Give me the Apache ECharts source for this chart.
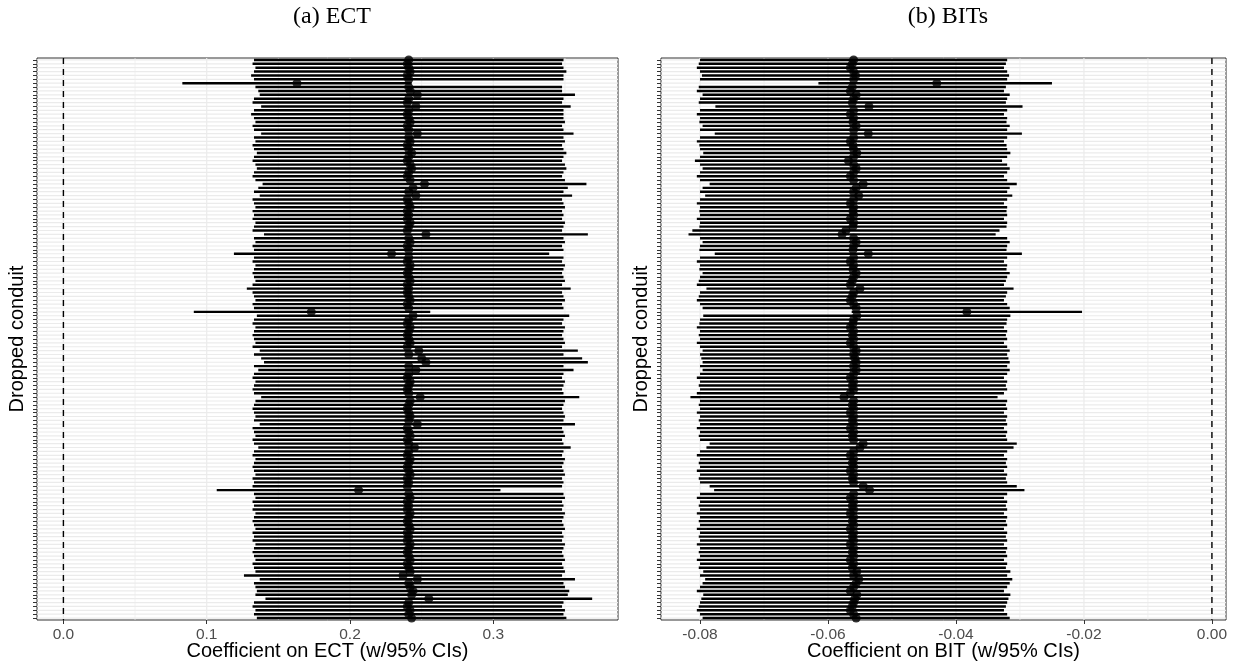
<!DOCTYPE html>
<html><head><meta charset="utf-8">
<script src="https://cdn.jsdelivr.net/npm/echarts@6/dist/echarts.min.js"></script>
<style>html,body{margin:0;padding:0;background:#fff}#c{width:1239px;height:669px}</style>
</head><body><div id="c"></div>
<script>
// ---------- Panel (a): ECT ----------
const ectEst = [
0.241,0.240,0.241,0.242,0.240,0.241,0.163,0.241,0.242,0.247,
0.241,0.240,0.246,0.241,0.240,0.241,0.242,0.240,0.241,0.247,
0.241,0.242,0.240,0.241,0.243,0.241,0.240,0.242,0.243,0.241,
0.240,0.242,0.252,0.244,0.241,0.246,0.240,0.241,0.242,0.240,
0.241,0.240,0.242,0.241,0.240,0.253,0.241,0.242,0.240,0.241,
0.229,0.241,0.240,0.242,0.241,0.240,0.241,0.242,0.240,0.241,
0.240,0.241,0.242,0.240,0.241,0.173,0.244,0.241,0.240,0.242,
0.241,0.240,0.241,0.242,0.240,0.248,0.241,0.250,0.253,0.241,
0.246,0.241,0.240,0.242,0.241,0.240,0.241,0.249,0.242,0.241,
0.240,0.241,0.242,0.241,0.247,0.240,0.241,0.242,0.240,0.241,
0.245,0.241,0.240,0.242,0.241,0.240,0.241,0.242,0.240,0.241,
0.240,0.206,0.241,0.242,0.240,0.241,0.240,0.242,0.241,0.240,
0.241,0.242,0.240,0.241,0.240,0.242,0.241,0.240,0.241,0.242,
0.240,0.241,0.242,0.237,0.247,0.241,0.242,0.244,0.243,0.255,
0.241,0.240,0.242,0.241,0.243];
const ectLo = [
0.133,0.132,0.134,0.133,0.131,0.133,0.083,0.134,0.136,0.137,
0.133,0.132,0.138,0.133,0.131,0.133,0.134,0.132,0.133,0.138,
0.133,0.134,0.132,0.133,0.135,0.133,0.132,0.134,0.135,0.133,
0.132,0.134,0.139,0.136,0.133,0.137,0.132,0.133,0.134,0.132,
0.133,0.132,0.134,0.133,0.132,0.140,0.133,0.134,0.132,0.133,
0.119,0.133,0.132,0.134,0.133,0.132,0.133,0.134,0.132,0.128,
0.132,0.133,0.134,0.132,0.133,0.091,0.135,0.133,0.132,0.134,
0.133,0.132,0.133,0.134,0.132,0.137,0.133,0.138,0.140,0.133,
0.136,0.133,0.132,0.134,0.133,0.132,0.133,0.138,0.134,0.133,
0.132,0.133,0.134,0.133,0.137,0.132,0.133,0.134,0.132,0.133,
0.136,0.133,0.132,0.134,0.133,0.132,0.133,0.134,0.132,0.133,
0.132,0.107,0.133,0.134,0.132,0.133,0.132,0.134,0.133,0.132,
0.133,0.134,0.132,0.133,0.132,0.134,0.133,0.132,0.133,0.134,
0.132,0.133,0.134,0.126,0.137,0.133,0.134,0.135,0.134,0.141,
0.133,0.132,0.134,0.133,0.135];
const ectHi = [
0.349,0.348,0.349,0.351,0.349,0.349,0.243,0.348,0.348,0.357,
0.349,0.348,0.354,0.349,0.349,0.349,0.350,0.348,0.349,0.356,
0.349,0.350,0.348,0.349,0.351,0.349,0.348,0.350,0.351,0.349,
0.348,0.350,0.365,0.352,0.349,0.355,0.348,0.349,0.350,0.348,
0.349,0.348,0.350,0.349,0.348,0.366,0.349,0.350,0.348,0.349,
0.339,0.349,0.348,0.350,0.349,0.348,0.349,0.350,0.348,0.354,
0.348,0.349,0.350,0.348,0.349,0.256,0.353,0.349,0.348,0.350,
0.349,0.348,0.349,0.350,0.348,0.359,0.349,0.362,0.366,0.349,
0.356,0.349,0.348,0.350,0.349,0.348,0.349,0.360,0.350,0.349,
0.348,0.349,0.350,0.349,0.357,0.348,0.349,0.350,0.348,0.349,
0.354,0.349,0.348,0.350,0.349,0.348,0.349,0.350,0.348,0.349,
0.348,0.305,0.349,0.350,0.348,0.349,0.348,0.350,0.349,0.348,
0.349,0.350,0.348,0.349,0.348,0.350,0.349,0.348,0.349,0.350,
0.348,0.349,0.350,0.348,0.357,0.349,0.350,0.353,0.352,0.369,
0.349,0.348,0.350,0.349,0.351];

// ---------- Panel (b): BITs ----------
const bitEst = [
-0.0560,-0.0562,-0.0565,-0.0560,-0.0557,-0.0560,-0.0430,-0.0562,-0.0565,-0.0556,
-0.0560,-0.0562,-0.0536,-0.0560,-0.0565,-0.0560,-0.0561,-0.0556,-0.0560,-0.0537,
-0.0560,-0.0565,-0.0561,-0.0560,-0.0555,-0.0560,-0.0568,-0.0560,-0.0556,-0.0560,
-0.0565,-0.0560,-0.0545,-0.0556,-0.0560,-0.0552,-0.0560,-0.0565,-0.0560,-0.0561,
-0.0560,-0.0565,-0.0560,-0.0561,-0.0572,-0.0578,-0.0560,-0.0556,-0.0560,-0.0561,
-0.0537,-0.0560,-0.0565,-0.0560,-0.0561,-0.0556,-0.0560,-0.0562,-0.0565,-0.0550,
-0.0560,-0.0562,-0.0565,-0.0560,-0.0556,-0.0383,-0.0555,-0.0560,-0.0561,-0.0565,
-0.0560,-0.0562,-0.0560,-0.0565,-0.0560,-0.0556,-0.0560,-0.0558,-0.0556,-0.0560,
-0.0556,-0.0560,-0.0565,-0.0560,-0.0562,-0.0560,-0.0565,-0.0575,-0.0560,-0.0562,
-0.0560,-0.0565,-0.0560,-0.0562,-0.0560,-0.0565,-0.0560,-0.0562,-0.0560,-0.0545,
-0.0550,-0.0560,-0.0565,-0.0560,-0.0562,-0.0560,-0.0565,-0.0560,-0.0562,-0.0560,
-0.0545,-0.0535,-0.0560,-0.0565,-0.0560,-0.0562,-0.0560,-0.0565,-0.0560,-0.0562,
-0.0560,-0.0565,-0.0560,-0.0562,-0.0560,-0.0565,-0.0560,-0.0562,-0.0560,-0.0565,
-0.0560,-0.0562,-0.0555,-0.0560,-0.0552,-0.0556,-0.0560,-0.0565,-0.0555,-0.0558,
-0.0560,-0.0562,-0.0565,-0.0560,-0.0556];
const bitLo = [
-0.0800,-0.0802,-0.0805,-0.0800,-0.0797,-0.0800,-0.0615,-0.0802,-0.0805,-0.0796,
-0.0800,-0.0802,-0.0776,-0.0800,-0.0805,-0.0800,-0.0801,-0.0796,-0.0800,-0.0777,
-0.0800,-0.0805,-0.0801,-0.0800,-0.0795,-0.0800,-0.0808,-0.0800,-0.0796,-0.0800,
-0.0805,-0.0800,-0.0785,-0.0796,-0.0800,-0.0792,-0.0800,-0.0805,-0.0800,-0.0801,
-0.0800,-0.0805,-0.0800,-0.0801,-0.0812,-0.0818,-0.0800,-0.0796,-0.0800,-0.0801,
-0.0777,-0.0800,-0.0805,-0.0800,-0.0801,-0.0796,-0.0800,-0.0802,-0.0805,-0.0790,
-0.0800,-0.0802,-0.0805,-0.0800,-0.0796,-0.0563,-0.0795,-0.0800,-0.0801,-0.0805,
-0.0800,-0.0802,-0.0800,-0.0805,-0.0800,-0.0796,-0.0800,-0.0798,-0.0796,-0.0800,
-0.0796,-0.0800,-0.0805,-0.0800,-0.0802,-0.0800,-0.0805,-0.0815,-0.0800,-0.0802,
-0.0800,-0.0805,-0.0800,-0.0802,-0.0800,-0.0805,-0.0800,-0.0802,-0.0800,-0.0785,
-0.0790,-0.0800,-0.0805,-0.0800,-0.0802,-0.0800,-0.0805,-0.0800,-0.0802,-0.0800,
-0.0785,-0.0778,-0.0800,-0.0805,-0.0800,-0.0802,-0.0800,-0.0805,-0.0800,-0.0802,
-0.0800,-0.0805,-0.0800,-0.0802,-0.0800,-0.0805,-0.0800,-0.0802,-0.0800,-0.0805,
-0.0800,-0.0802,-0.0795,-0.0800,-0.0792,-0.0796,-0.0800,-0.0805,-0.0795,-0.0798,
-0.0800,-0.0802,-0.0805,-0.0800,-0.0796];
const bitHi = [
-0.0320,-0.0322,-0.0325,-0.0320,-0.0317,-0.0320,-0.0250,-0.0322,-0.0325,-0.0316,
-0.0320,-0.0322,-0.0296,-0.0320,-0.0325,-0.0320,-0.0321,-0.0316,-0.0320,-0.0297,
-0.0320,-0.0325,-0.0321,-0.0320,-0.0315,-0.0320,-0.0328,-0.0320,-0.0316,-0.0320,
-0.0325,-0.0320,-0.0305,-0.0316,-0.0320,-0.0312,-0.0320,-0.0325,-0.0320,-0.0321,
-0.0320,-0.0325,-0.0320,-0.0321,-0.0332,-0.0338,-0.0320,-0.0316,-0.0320,-0.0321,
-0.0297,-0.0320,-0.0325,-0.0320,-0.0321,-0.0316,-0.0320,-0.0322,-0.0325,-0.0310,
-0.0320,-0.0322,-0.0325,-0.0320,-0.0316,-0.0203,-0.0315,-0.0320,-0.0321,-0.0325,
-0.0320,-0.0322,-0.0320,-0.0325,-0.0320,-0.0316,-0.0320,-0.0318,-0.0316,-0.0320,
-0.0316,-0.0320,-0.0325,-0.0320,-0.0322,-0.0320,-0.0325,-0.0335,-0.0320,-0.0322,
-0.0320,-0.0325,-0.0320,-0.0322,-0.0320,-0.0325,-0.0320,-0.0322,-0.0320,-0.0305,
-0.0310,-0.0320,-0.0325,-0.0320,-0.0322,-0.0320,-0.0325,-0.0320,-0.0322,-0.0320,
-0.0305,-0.0293,-0.0320,-0.0325,-0.0320,-0.0322,-0.0320,-0.0325,-0.0320,-0.0322,
-0.0320,-0.0325,-0.0320,-0.0322,-0.0320,-0.0325,-0.0320,-0.0322,-0.0320,-0.0325,
-0.0320,-0.0322,-0.0315,-0.0320,-0.0312,-0.0316,-0.0320,-0.0325,-0.0315,-0.0318,
-0.0320,-0.0322,-0.0325,-0.0320,-0.0316];

// tick values
const ectTicks = [0, 0.1, 0.2, 0.3];
const ectMinor = [0.05, 0.15, 0.25, 0.35];
const bitTicks = [-0.08, -0.06, -0.04, -0.02, 0];
const bitMinor = [-0.07, -0.05, -0.03, -0.01];
const refLine = [0];

const conduits = ectEst.map((_, i) => 'Conduit ' + (i + 1));

// ---------- rendering ----------
const SANS = 'Liberation Sans, Arial, Helvetica, sans-serif';
const chart = echarts.init(document.getElementById('c'), null, {renderer: 'canvas'});

function ciRender(params, api) {
  const a = api.coord([api.value(0), api.value(2)]);
  const b = api.coord([api.value(1), api.value(2)]);
  return {type: 'line', shape: {x1: a[0], y1: a[1], x2: b[0], y2: b[1]},
          style: {stroke: '#000', lineWidth: 2.4}};
}
function rowGridRender(params, api) {
  const cs = params.coordSys;
  const y = api.coord([0, api.value(1)])[1];
  return {type: 'line', shape: {x1: cs.x, y1: y, x2: cs.x + cs.width, y2: y},
          style: {stroke: '#ebebeb', lineWidth: 1.2}};
}
function vRender(color, width, dash) {
  return function (params, api) {
    const cs = params.coordSys;
    const x = api.coord([api.value(0), 0])[0];
    return {type: 'line', shape: {x1: x, y1: cs.y, x2: x, y2: cs.y + cs.height},
            style: {stroke: color, lineWidth: width, lineDash: dash || null}};
  };
}

function panelSeries(gi, est, lo, hi, major, minor) {
  return [
    {type: 'custom', xAxisIndex: gi, yAxisIndex: gi, z: 1, silent: true,
     renderItem: vRender('#ebebeb', 0.7), encode: {x: 0, y: 1},
     data: minor.map(v => [v, 0])},
    {type: 'custom', xAxisIndex: gi, yAxisIndex: gi, z: 1, silent: true,
     renderItem: rowGridRender, encode: {x: 0, y: 1},
     data: conduits.map((c, i) => [0, i])},
    {type: 'custom', xAxisIndex: gi, yAxisIndex: gi, z: 1, silent: true,
     renderItem: vRender('#ebebeb', 1.2), encode: {x: 0, y: 1},
     data: major.map(v => [v, 0])},
    {type: 'custom', xAxisIndex: gi, yAxisIndex: gi, z: 2, silent: true,
     renderItem: vRender('#000', 1.4, [6, 5]), encode: {x: 0, y: 1},
     data: refLine.map(v => [v, 0])},
    {type: 'custom', xAxisIndex: gi, yAxisIndex: gi, z: 3, silent: true,
     renderItem: ciRender, encode: {x: [0, 1], y: 2},
     data: lo.map((l, i) => [l, hi[i], i])},
    {type: 'scatter', xAxisIndex: gi, yAxisIndex: gi, z: 4, silent: true,
     symbol: 'circle', symbolSize: 9, itemStyle: {color: '#000'},
     data: est.map((e, i) => [e, i])}
  ];
}

const option = {
  animation: false,
  backgroundColor: '#fff',
  title: [
    {text: '(a) ECT', left: 327, top: 0, textAlign: 'center',
     textStyle: {fontFamily: 'Liberation Serif, serif', fontSize: 24, fontWeight: 'normal', color: '#000'}},
    {text: '(b) BITs', left: 943, top: 0, textAlign: 'center',
     textStyle: {fontFamily: 'Liberation Serif, serif', fontSize: 24, fontWeight: 'normal', color: '#000'}}
  ],
  grid: [
    {left: 37, top: 58, width: 581, height: 562, show: true, borderColor: '#333', borderWidth: 1, backgroundColor: '#fff', outerBoundsMode: 'none', containLabel: false},
    {left: 661, top: 58, width: 565, height: 562, show: true, borderColor: '#333', borderWidth: 1, backgroundColor: '#fff', outerBoundsMode: 'none', containLabel: false}
  ],
  xAxis: [
    {type: 'value', gridIndex: 0, min: -0.01843, max: 0.38703,
     axisLine: {show: false, onZero: false}, splitLine: {show: false},
     axisTick: {show: true, customValues: ectTicks, length: 4, lineStyle: {color: '#333', width: 1}},
     axisLabel: {customValues: ectTicks, formatter: v => v.toFixed(1), color: '#4d4d4d', fontSize: 15.5, fontFamily: SANS, margin: 7},
     name: 'Coefficient on ECT (w/95% CIs)', nameLocation: 'middle', nameGap: 21, nameMoveOverlap: false,
     nameTextStyle: {color: '#000', fontSize: 20, fontFamily: SANS}},
    {type: 'value', gridIndex: 1, min: -0.0861, max: 0.0022,
     axisLine: {show: false, onZero: false}, splitLine: {show: false},
     axisTick: {show: true, customValues: bitTicks, length: 4, lineStyle: {color: '#333', width: 1}},
     axisLabel: {customValues: bitTicks, formatter: v => v.toFixed(2), color: '#4d4d4d', fontSize: 15.5, fontFamily: SANS, margin: 7},
     name: 'Coefficient on BIT (w/95% CIs)', nameLocation: 'middle', nameGap: 21, nameMoveOverlap: false,
     nameTextStyle: {color: '#000', fontSize: 20, fontFamily: SANS}}
  ],
  yAxis: [0, 1].map(gi => ({
    type: 'category', gridIndex: gi, data: conduits, inverse: true, boundaryGap: true,
    axisLine: {show: false, onZero: false}, splitLine: {show: false},
    axisTick: {show: true, interval: 0, alignWithLabel: true, length: 4, lineStyle: {color: '#333', width: 1}},
    axisLabel: {show: false},
    name: 'Dropped conduit', nameLocation: 'middle', nameGap: 10, nameRotate: 90, nameMoveOverlap: false,
    nameTextStyle: {color: '#000', fontSize: 20, fontFamily: SANS}
  })),
  series: [
    ...panelSeries(0, ectEst, ectLo, ectHi, ectTicks, ectMinor),
    ...panelSeries(1, bitEst, bitLo, bitHi, bitTicks, bitMinor)
  ]
};
chart.setOption(option);
</script>
</body></html>
